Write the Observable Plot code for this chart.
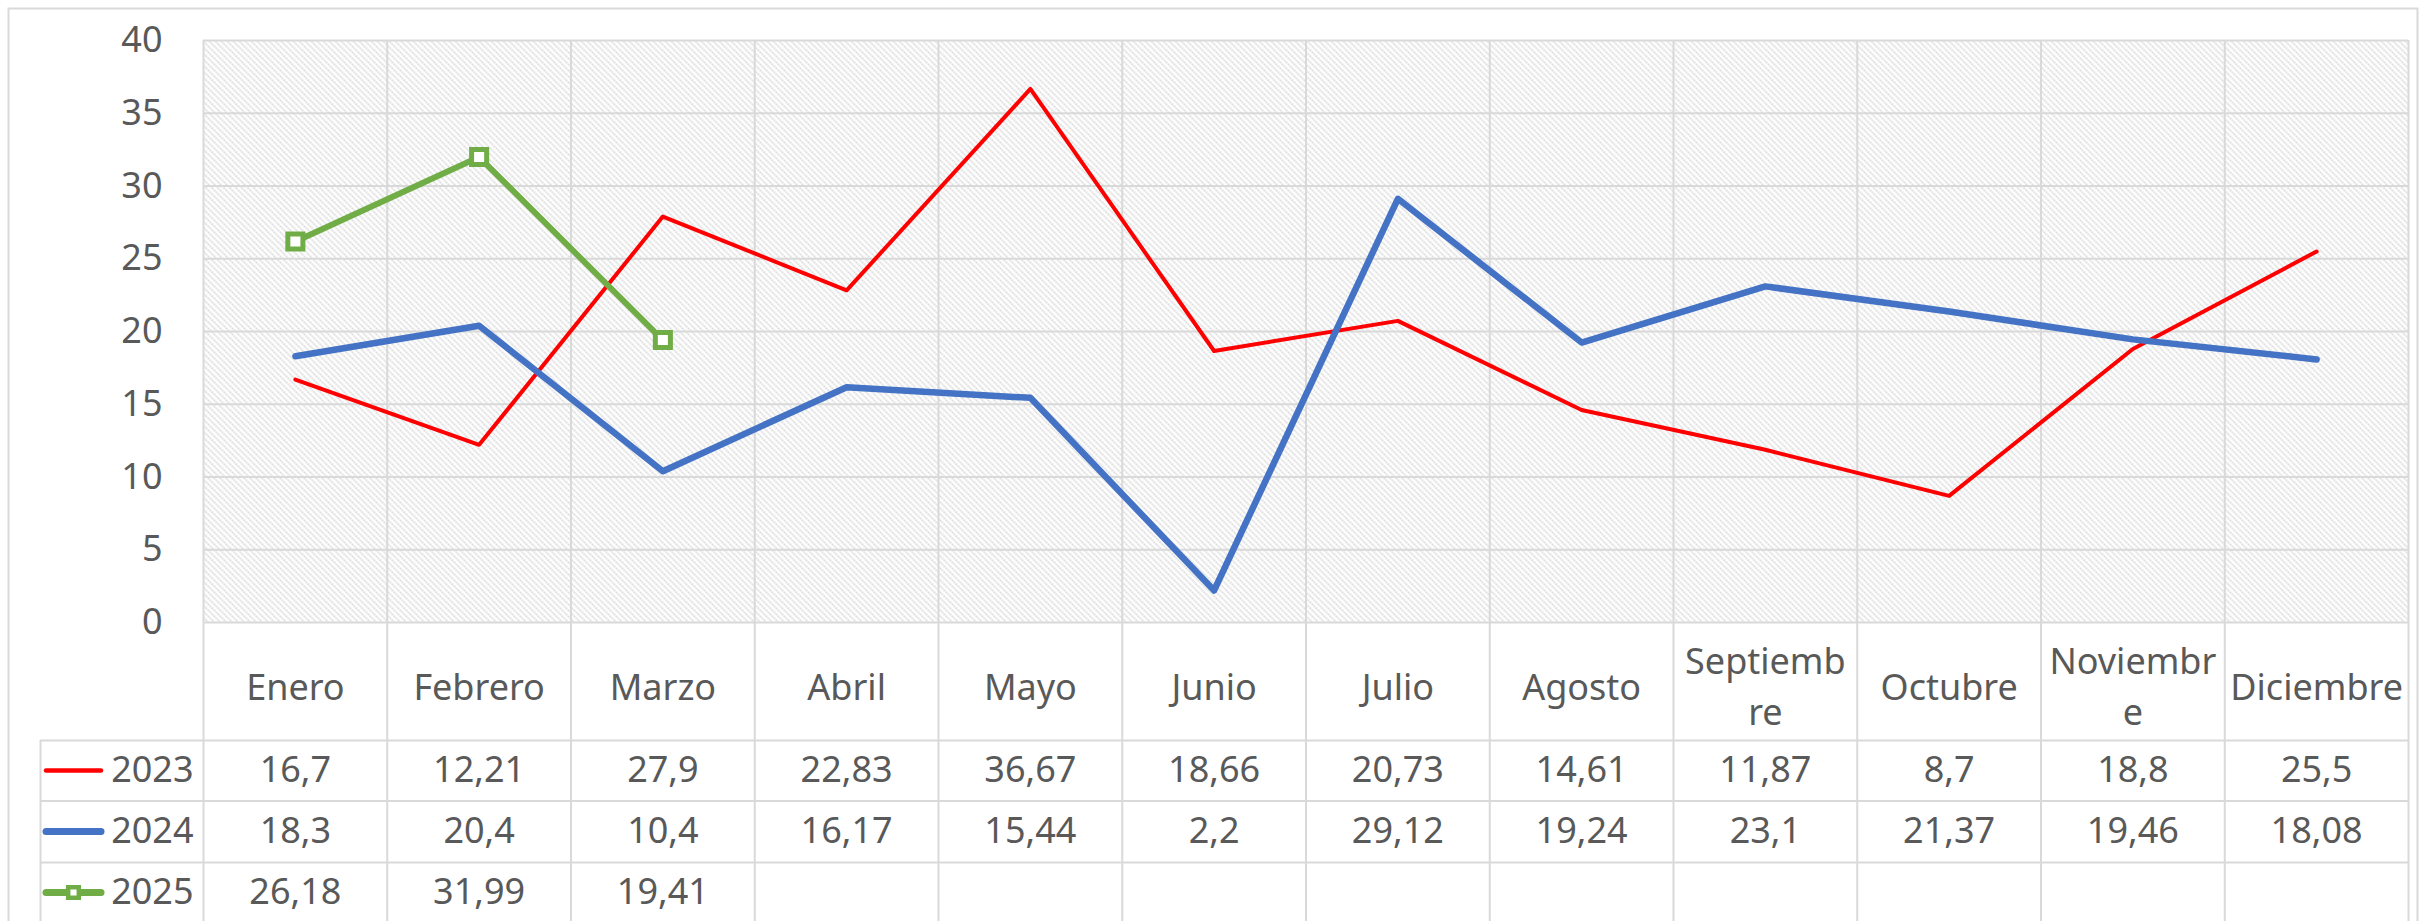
<!DOCTYPE html>
<html>
<head>
<meta charset="utf-8">
<script src="https://cdn.jsdelivr.net/npm/d3@7"></script>
<script src="https://cdn.jsdelivr.net/npm/@observablehq/plot@0.6"></script>
<style>
  html, body { margin: 0; padding: 0; background: #ffffff; }
</style>
</head>
<body>
<div id="chart"></div>
<script>
// ---- data ----
const months = ["Enero", "Febrero", "Marzo", "Abril", "Mayo", "Junio", "Julio", "Agosto", "Septiembre", "Octubre", "Noviembre", "Diciembre"];
const monthLabels = ["Enero", "Febrero", "Marzo", "Abril", "Mayo", "Junio", "Julio", "Agosto", "Septiemb\nre", "Octubre", "Noviembr\ne", "Diciembre"];
const values2023 = [16.7, 12.21, 27.9, 22.83, 36.67, 18.66, 20.73, 14.61, 11.87, 8.7, 18.8, 25.5];
const values2024 = [18.3, 20.4, 10.4, 16.17, 15.44, 2.2, 29.12, 19.24, 23.1, 21.37, 19.46, 18.08];
const values2025 = [26.18, 31.99, 19.41];
const seriesNames = ["2023", "2024", "2025"];
const yTicks = [0, 5, 10, 15, 20, 25, 30, 35, 40];

// ---- styling ----
const W = 2429, H = 921;
const mL = 203, mR = 21, mT = 40, mB = 299;
const gridColor = "#d9d9d9";
const textColor = "#595959";
const tableFont = "'Comic Sans MS', 'Noto Sans', sans-serif";
const axisFont = "'Noto Sans', sans-serif";
const fs = 36;
const colors = {"2023": "#ff0000", "2024": "#4472c4", "2025": "#70ad47"};
const widths = {"2023": 4, "2024": 6.5, "2025": 6};

const toRows = vals => vals.map((v, i) => ({i, v}));
const fmt = v => String(v).replace(".", ",");
const xc = d => d.i + 0.5;

const rowDy = {"2023": 148, "2024": 209, "2025": 270};
const lineDy = [118, 178.5, 240];

function tableRow(name, vals) {
  const dy = rowDy[name];
  const marks = [
    Plot.text(toRows(vals), {x: xc, y: 0, dy, text: d => fmt(d.v), fill: textColor, fontSize: fs, fontFamily: tableFont}),
    Plot.text([name], {x: 0, y: 0, dx: -10, dy, text: d => d, textAnchor: "end", fill: textColor, fontSize: fs, fontFamily: tableFont}),
    Plot.ruleY([0], {dy, insetLeft: -157, insetRight: (W - mL - mR) + 46 - (101 - mL) - 46 + 0, stroke: colors[name], strokeWidth: widths[name] === 4 ? 4.5 : 7, strokeLinecap: "round"})
  ];
  if (name === "2025") {
    marks.push(Plot.dot([0], {x: 0, y: 0, dx: -130, dy, symbol: "square", r: 6, fill: "white", stroke: colors[name], strokeWidth: 4.5}));
  }
  return marks;
}

const plot = Plot.plot({
  width: W,
  height: H,
  marginLeft: mL,
  marginRight: mR,
  marginTop: mT,
  marginBottom: mB,
  style: {background: "white", fontFamily: axisFont},
  x: {type: "linear", domain: [0, months.length], axis: null},
  y: {domain: [0, 40], axis: null},
  marks: [
    // outer chart border
    Plot.frame({stroke: gridColor, strokeWidth: 2, insetLeft: -195, insetTop: -32, insetRight: -9, insetBottom: -320}),
    // hatched plot background
    Plot.frame({fill: "url(#hatch)", stroke: "none"}),
    // horizontal gridlines
    Plot.ruleY(yTicks, {stroke: gridColor, strokeWidth: 2}),
    // vertical gridlines / table column borders
    Plot.ruleX(d3.range(months.length + 1), {stroke: gridColor, strokeWidth: 2, insetBottom: -320}),
    // table row borders
    ...lineDy.map(dy => Plot.ruleY([0], {dy, insetLeft: -163, stroke: gridColor, strokeWidth: 2})),
    // legend column left border
    Plot.ruleX([0], {dx: -163, insetTop: 740 - mT, insetBottom: -320, stroke: gridColor, strokeWidth: 2}),
    // y axis
    Plot.axisY({ticks: yTicks, tickSize: 0, tickPadding: 41, fontSize: fs, fill: textColor, label: null, tickFormat: d => String(d)}),
    // header row month names
    Plot.text(months.map((m, i) => ({i, label: monthLabels[i]})), {x: xc, y: 0, dy: 61, text: "label", lineHeight: 1.4, fill: textColor, fontSize: fs, fontFamily: tableFont}),
    // lines
    Plot.line(toRows(values2023), {x: xc, y: "v", stroke: colors["2023"], strokeWidth: widths["2023"], strokeLinejoin: "round"}),
    Plot.line(toRows(values2024), {x: xc, y: "v", stroke: colors["2024"], strokeWidth: widths["2024"], strokeLinejoin: "round", strokeLinecap: "round"}),
    Plot.line(toRows(values2025), {x: xc, y: "v", stroke: colors["2025"], strokeWidth: widths["2025"], strokeLinejoin: "round"}),
    Plot.dot(toRows(values2025), {x: xc, y: "v", symbol: "square", r: 8.5, fill: "white", stroke: colors["2025"], strokeWidth: 5}),
    // table rows with legend
    ...tableRow("2023", values2023),
    ...tableRow("2024", values2024),
    ...tableRow("2025", values2025)
  ]
});

// hatch pattern definition
const svgSel = d3.select(plot);
const defs = svgSel.insert("defs", ":first-child");
const pat = defs.append("pattern").attr("id", "hatch").attr("patternUnits", "userSpaceOnUse").attr("width", 6).attr("height", 6);
pat.append("rect").attr("width", 6).attr("height", 6).attr("fill", "white");
pat.append("path").attr("d", "M-1,-1L7,7M-1,5L1,7M5,-1L7,1").attr("stroke", "#d2d2d2").attr("stroke-width", 1.6).attr("stroke-dasharray", "2,1");

document.getElementById("chart").appendChild(plot);
</script>
</body>
</html>
